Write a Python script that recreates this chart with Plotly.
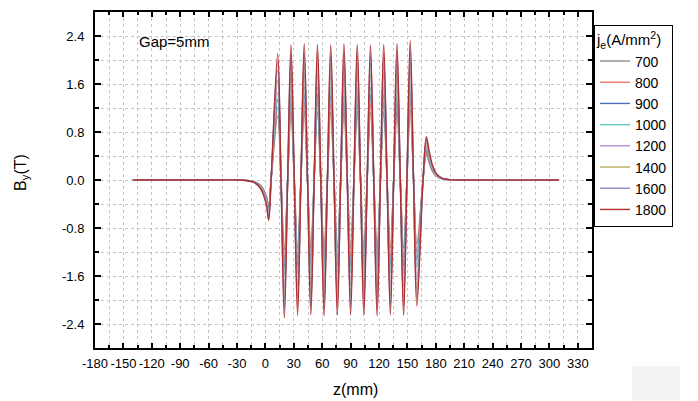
import plotly.graph_objects as go

# ---------------- data ----------------
currents = ["700", "800", "900", "1000", "1200", "1400", "1600", "1800"]
colors = ["#8c8c8c", "#f0786a", "#5070c0", "#60c8c0", "#b890d8", "#b8b060", "#8888c8", "#b03030"]

# key z positions (mm): entrance region, 11 periods (peak, zero, dip, zero ...), exit region
z_head = [-140, -60, -30, -20, -12, -6, -2, 1, 3.5, 6]
z_mid = [13, 16.5, 20, 23.5, 27, 30.5, 34, 37.5, 41, 44.5, 48, 51.5, 55, 58.5, 62, 65.5,
         69, 72.5, 76, 79.5, 83, 86.5, 90, 93.5, 97, 100.5, 104, 107.5, 111, 114.5, 118,
         121.5, 125, 128.5, 132, 135.5, 139, 142.5, 146, 149.5, 153, 156.5, 160]
z_tail = [166.5, 170, 173, 176, 180, 186, 195, 210, 310]

# entrance values (at z_head)
head = {
    "700":  [0, 0, 0, -0.006, -0.025, -0.075, -0.155, -0.265, -0.42, 0],
    "800":  [0, 0, 0, -0.007, -0.027, -0.080, -0.170, -0.280, -0.45, 0],
    "900":  [0, 0, 0, -0.007, -0.030, -0.085, -0.180, -0.300, -0.48, 0],
    "1000": [0, 0, 0, -0.008, -0.030, -0.090, -0.190, -0.320, -0.51, 0],
    "1200": [0, 0, 0, -0.008, -0.033, -0.100, -0.200, -0.350, -0.55, 0],
    "1400": [0, 0, 0, -0.010, -0.035, -0.105, -0.220, -0.370, -0.59, 0],
    "1600": [0, 0, 0, -0.010, -0.040, -0.110, -0.230, -0.400, -0.63, 0],
    "1800": [0, 0, 0, -0.010, -0.040, -0.120, -0.250, -0.420, -0.67, 0],
}
# positive peaks (z = 13, 27, ..., 153)
peaks = {
    "700":  [1.07, 1.13, 1.15, 1.14, 1.13, 1.15, 1.14, 1.13, 1.14, 1.15, 1.18],
    "800":  [1.21, 1.28, 1.30, 1.29, 1.28, 1.30, 1.29, 1.28, 1.29, 1.30, 1.33],
    "900":  [1.34, 1.42, 1.44, 1.43, 1.42, 1.44, 1.43, 1.42, 1.43, 1.44, 1.47],
    "1000": [1.46, 1.55, 1.57, 1.56, 1.55, 1.57, 1.56, 1.55, 1.56, 1.57, 1.60],
    "1200": [1.66, 1.77, 1.79, 1.78, 1.77, 1.79, 1.78, 1.77, 1.78, 1.79, 1.83],
    "1400": [1.83, 1.95, 1.97, 1.96, 1.95, 1.97, 1.96, 1.95, 1.96, 1.97, 2.01],
    "1600": [1.97, 2.10, 2.12, 2.11, 2.10, 2.12, 2.11, 2.10, 2.11, 2.12, 2.17],
    "1800": [2.10, 2.25, 2.27, 2.26, 2.25, 2.27, 2.26, 2.25, 2.26, 2.27, 2.32],
}
# negative dips (z = 20, 34, ..., 160)
dips = {
    "700":  [-1.17, -1.14, -1.13, -1.15, -1.14, -1.13, -1.14, -1.15, -1.13, -1.14, -1.07],
    "800":  [-1.32, -1.29, -1.28, -1.30, -1.29, -1.28, -1.29, -1.30, -1.28, -1.29, -1.21],
    "900":  [-1.46, -1.43, -1.42, -1.44, -1.43, -1.42, -1.43, -1.44, -1.42, -1.43, -1.34],
    "1000": [-1.59, -1.56, -1.55, -1.57, -1.56, -1.55, -1.56, -1.57, -1.55, -1.56, -1.46],
    "1200": [-1.81, -1.78, -1.77, -1.79, -1.78, -1.77, -1.78, -1.79, -1.77, -1.78, -1.66],
    "1400": [-2.00, -1.96, -1.95, -1.97, -1.96, -1.95, -1.96, -1.97, -1.95, -1.96, -1.83],
    "1600": [-2.15, -2.11, -2.10, -2.12, -2.11, -2.10, -2.11, -2.12, -2.10, -2.11, -1.97],
    "1800": [-2.30, -2.26, -2.25, -2.27, -2.26, -2.25, -2.26, -2.27, -2.25, -2.26, -2.10],
}
# exit values (at z_tail)
tail = {
    "700":  [0, 0.43, 0.29, 0.16, 0.072, 0.021, 0.003, 0, 0],
    "800":  [0, 0.46, 0.31, 0.17, 0.077, 0.022, 0.004, 0, 0],
    "900":  [0, 0.49, 0.33, 0.18, 0.082, 0.024, 0.004, 0, 0],
    "1000": [0, 0.52, 0.35, 0.195, 0.087, 0.025, 0.004, 0, 0],
    "1200": [0, 0.57, 0.38, 0.21, 0.095, 0.028, 0.005, 0, 0],
    "1400": [0, 0.62, 0.41, 0.23, 0.10, 0.030, 0.005, 0, 0],
    "1600": [0, 0.67, 0.45, 0.25, 0.11, 0.033, 0.005, 0, 0],
    "1800": [0, 0.72, 0.48, 0.27, 0.12, 0.035, 0.006, 0, 0],
}

x_tick_vals = [-180, -150, -120, -90, -60, -30, 0, 30, 60, 90, 120, 150, 180, 210, 240, 270, 300, 330]
x_tick_text = ["-180", "-150", "-120", "-90", "-60", "-30", "0", "30", "60", "90", "120", "150",
               "180", "210", "240", "270", "300", "330"]
y_tick_vals = [-2.4, -1.6, -0.8, 0.0, 0.8, 1.6, 2.4]
y_tick_text = ["-2.4", "-1.6", "-0.8", "0.0", "0.8", "1.6", "2.4"]

# ---------------- figure ----------------
FONT = "Liberation Sans, Arial, Helvetica, sans-serif"
z_all = z_head + z_mid + z_tail

fig = go.Figure()
for cur, col in zip(currents, colors):
    mid = []
    for i in range(len(peaks[cur])):
        mid += [peaks[cur][i], 0, dips[cur][i]]
        if i < len(peaks[cur]) - 1:
            mid += [0]
    b = head[cur] + mid + tail[cur]
    fig.add_trace(go.Scatter(x=z_all, y=b, mode="lines", name=cur,
                             line=dict(color=col, width=1.4, shape="spline")))

grid = dict(showgrid=True, gridcolor="#c4c4c4", griddash="dot", gridwidth=1)

fig.update_layout(
    width=698, height=401, autosize=False,
    margin=dict(l=95, r=106, t=10, b=53),
    paper_bgcolor="white", plot_bgcolor="white",
    font=dict(family=FONT, size=13, color="black"),
    showlegend=True,
    legend=dict(
        title=dict(text="j<sub>e</sub>(A/mm<sup>2</sup>)", font=dict(size=15)),
        font=dict(size=14), x=1.004, xanchor="left", y=0.9615, yanchor="top",
        bordercolor="black", borderwidth=1, bgcolor="white", tracegroupgap=0,
    ),
    xaxis=dict(
        range=[-180, 345], tickmode="array", tickvals=x_tick_vals, ticktext=x_tick_text,
        ticks="inside", ticklen=5, tickwidth=1.5, tickcolor="black",
        showline=True, linecolor="black", linewidth=2, mirror="ticks",
        zeroline=False, ticklabelstandoff=2, tickfont=dict(size=13),
        minor=dict(tickmode="linear", tick0=-180, dtick=15, ticks="inside", ticklen=3,
                   tickcolor="black", tickwidth=1.5, **grid),
        **grid,
    ),
    yaxis=dict(
        range=[-2.8, 2.8], tickmode="array", tickvals=y_tick_vals, ticktext=y_tick_text,
        ticks="inside", ticklen=6, tickwidth=1.5, tickcolor="black",
        showline=True, linecolor="black", linewidth=2, mirror="ticks",
        zeroline=False, ticklabelstandoff=6, tickfont=dict(size=13),
        minor=dict(tickmode="linear", tick0=0, dtick=0.4, ticks="inside", ticklen=4,
                   tickcolor="black", tickwidth=1.5, **grid),
        **grid,
    ),
    annotations=[
        dict(text="Gap=5mm", xref="paper", yref="paper", x=0.0845, y=0.911,
             xanchor="left", yanchor="middle", showarrow=False, font=dict(size=15)),
        dict(text="B<sub>y</sub>(T)", xref="paper", yref="paper", x=-0.147, y=0.524,
             xanchor="center", yanchor="middle", textangle=-90, showarrow=False,
             font=dict(size=16)),
        dict(text="z(mm)", xref="paper", yref="paper", x=0.525, y=-0.124,
             xanchor="center", yanchor="middle", showarrow=False, font=dict(size=16)),
    ],
    shapes=[
        dict(type="rect", xref="paper", yref="paper", x0=1.0805, x1=1.177, y0=-0.0533, y1=-0.1568,
             fillcolor="#f3f3f3", line=dict(width=0), layer="below"),
    ],
)

fig.write_html("out.html")
